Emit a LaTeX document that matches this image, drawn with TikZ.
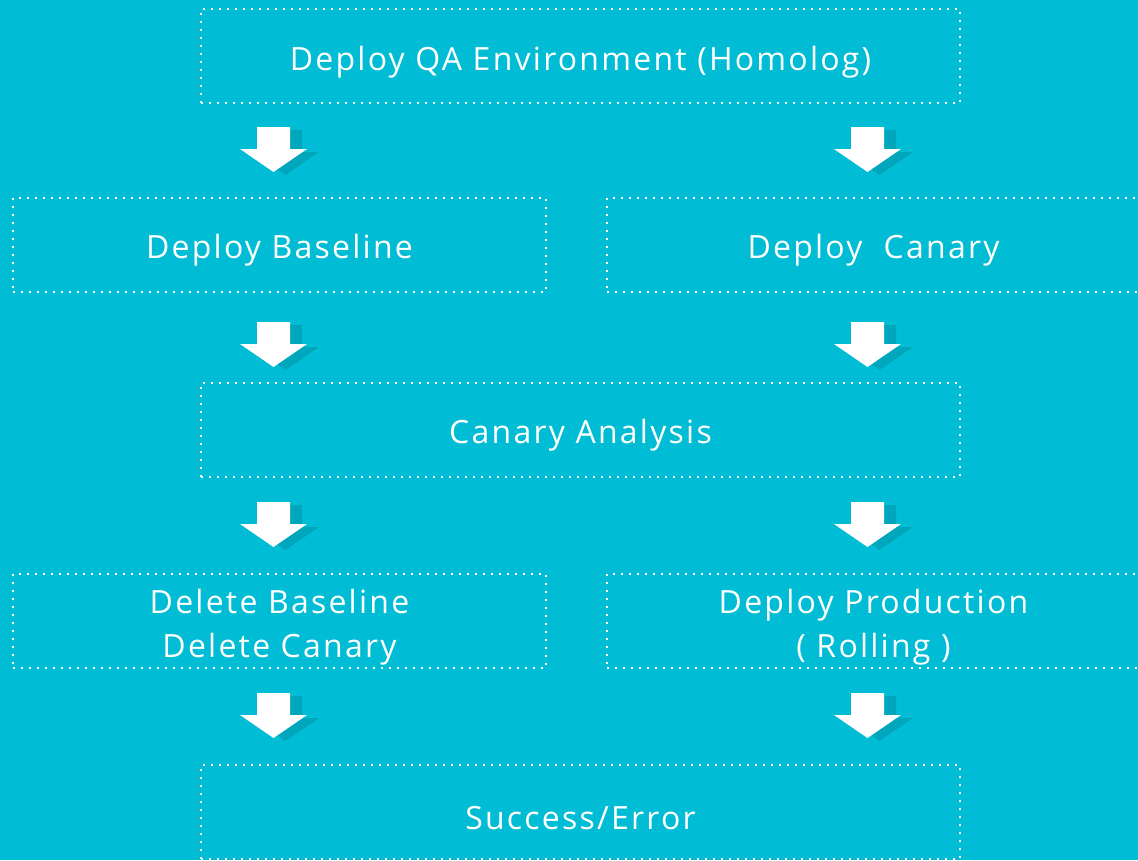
\documentclass[tikz,border=0pt]{standalone}
\usepackage{fontspec}
\setmainfont{Open Sans}
\definecolor{bg}{HTML}{00BCD4}
\definecolor{arrowshade}{HTML}{00A6BC}
\tikzset{
  caption/.style={text=white, align=center, inner sep=0pt, yshift=-4.5pt,
    font=\fontsize{24}{33}\selectfont\addfontfeatures{LetterSpace=7}},
  stage/.style={draw=white, line width=1.5pt, dash pattern=on 1.5pt off 4.5pt,
    inner sep=0pt, minimum height=70.5pt,
    label={[caption]center:#1}},
  wide/.style={stage={#1}, minimum width=569.25pt},
  half/.style={stage={#1}, minimum width=399.75pt},
}
% block arrow pointing down: name, centre x, top y (pixel units)
\newcommand\blockarrow[3]{%
  \fill[arrowshade, shift={(#2+12,#3+3)}]
    (-16.5,0) -- (16.5,0) -- (16.5,22) -- (33.5,22) -- (0,45) -- (-33.5,22) -- (-16.5,22) -- cycle;
  \fill[white, shift={(#2,#3)}]
    (-16.5,0) -- (16.5,0) -- (16.5,22) -- (33.5,22) -- (0,45) -- (-33.5,22) -- (-16.5,22) -- cycle;
  \coordinate (#1) at (#2,#3+45);
}
\begin{document}
\begin{tikzpicture}[x=0.75pt, y=-0.75pt]
  \useasboundingbox (0,0) rectangle (1138,860);
  \fill[bg] (0,0) rectangle (1138,860);
  \clip (0,0) rectangle (1138,860);

  \node[wide={Deploy QA Environment (Homolog)}] (qa) at (580.5,56) {};
  \node[half={Deploy Baseline}] (base) at (279.5,244.5) {};
  \node[half={Deploy\ \ Canary}] (canary) at (873.5,244.5) {};
  \node[wide={Canary Analysis}] (analysis) at (580.5,429.5) {};
  \node[half={Delete Baseline\\Delete Canary}] (delete) at (279.5,621) {};
  \node[half={Deploy Production\\( Rolling )}] (prod) at (873.5,621) {};
  \node[wide={Success/Error}] (result) at (580.5,812) {};

  \blockarrow{a1}{273.5}{127}
  \blockarrow{a2}{867.5}{127}
  \blockarrow{a3}{273.5}{322}
  \blockarrow{a4}{867.5}{322}
  \blockarrow{a5}{273.5}{502}
  \blockarrow{a6}{867.5}{502}
  \blockarrow{a7}{273.5}{693}
  \blockarrow{a8}{867.5}{693}
\end{tikzpicture}
\end{document}
